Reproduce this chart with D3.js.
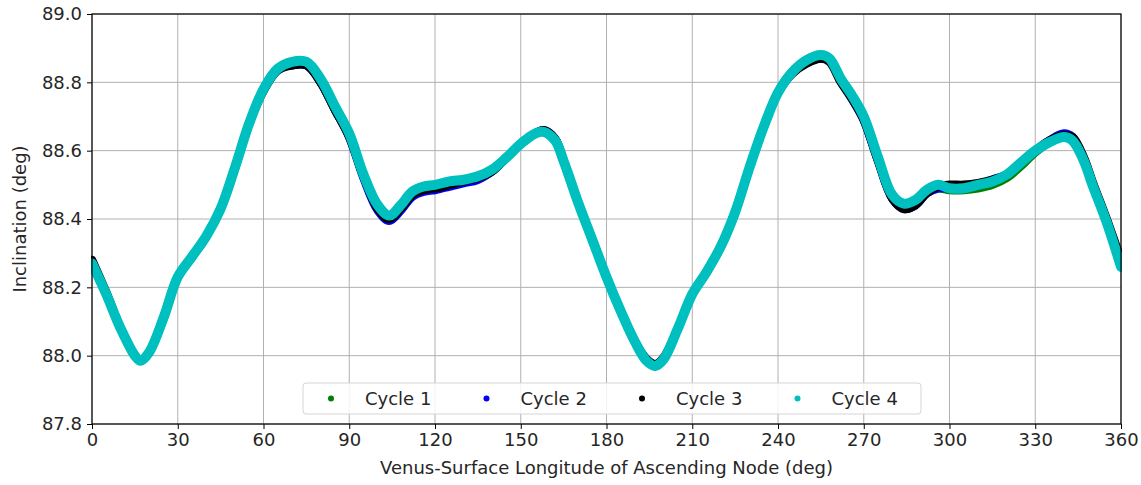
<!DOCTYPE html>
<html>
<head>
<meta charset="utf-8">
<script src="https://cdn.jsdelivr.net/npm/d3@7"></script>
<style>
  body { margin: 0; background: #fff; }
  text { font-family: "DejaVu Sans", sans-serif; }
</style>
</head>
<body>
<svg id="chart"></svg>
<script>
/* data */
var lon = [0,5,10,15,17,20,25,30,35,40,45,50,55,60,65,70,75,80,85,90,95,100,104,108,112,116,120,125,130,135,140,145,150,155,158,162,165,170,175,180,185,190,194,197,200,205,210,215,220,225,230,235,240,245,250,255,258,262,266,270,275,280,284,288,292,296,300,305,310,315,320,325,330,335,340,343,347,350,355,360];

var cycle1 = [88.27,88.18,88.08,88.00,87.985,88.01,88.11,88.23,88.29,88.35,88.43,88.55,88.68,88.78,88.84,88.855,88.855,88.80,88.72,88.645,88.525,88.435,88.405,88.435,88.475,88.49,88.495,88.505,88.51,88.52,88.54,88.58,88.62,88.65,88.655,88.63,88.57,88.45,88.34,88.23,88.13,88.04,87.985,87.97,87.99,88.08,88.18,88.245,88.32,88.42,88.55,88.67,88.77,88.83,88.86,88.875,88.865,88.805,88.755,88.695,88.575,88.465,88.44,88.45,88.48,88.49,88.485,88.485,88.49,88.50,88.52,88.555,88.595,88.625,88.64,88.63,88.57,88.50,88.39,88.26];

var cycle2 = [88.275,88.18,88.08,88.00,87.985,88.01,88.11,88.23,88.29,88.35,88.43,88.55,88.68,88.78,88.84,88.85,88.85,88.80,88.72,88.64,88.52,88.425,88.395,88.425,88.465,88.48,88.485,88.495,88.505,88.515,88.54,88.58,88.62,88.65,88.66,88.635,88.57,88.45,88.34,88.23,88.13,88.04,87.99,87.975,87.99,88.08,88.18,88.245,88.32,88.42,88.55,88.67,88.77,88.83,88.86,88.87,88.865,88.805,88.75,88.69,88.57,88.46,88.43,88.44,88.475,88.49,88.49,88.49,88.50,88.515,88.53,88.565,88.60,88.63,88.65,88.64,88.575,88.505,88.395,88.27];

var cycle3 = [88.28,88.185,88.08,88.00,87.985,88.01,88.11,88.23,88.29,88.35,88.43,88.55,88.68,88.775,88.835,88.85,88.85,88.80,88.72,88.64,88.525,88.43,88.40,88.43,88.47,88.485,88.49,88.50,88.51,88.52,88.54,88.58,88.62,88.65,88.66,88.635,88.57,88.45,88.34,88.23,88.13,88.04,87.99,87.975,87.995,88.08,88.18,88.245,88.32,88.42,88.55,88.67,88.77,88.825,88.855,88.87,88.86,88.80,88.75,88.69,88.57,88.46,88.43,88.44,88.475,88.495,88.50,88.50,88.505,88.515,88.53,88.565,88.60,88.63,88.645,88.64,88.58,88.51,88.40,88.28];

var cycle4 = [88.27,88.18,88.08,88.00,87.985,88.01,88.11,88.23,88.29,88.35,88.43,88.55,88.68,88.78,88.84,88.86,88.86,88.81,88.73,88.65,88.53,88.44,88.41,88.44,88.48,88.495,88.50,88.51,88.515,88.525,88.545,88.58,88.62,88.65,88.655,88.63,88.57,88.45,88.34,88.23,88.13,88.04,87.985,87.97,87.99,88.08,88.18,88.245,88.32,88.42,88.55,88.67,88.77,88.83,88.865,88.88,88.87,88.81,88.76,88.70,88.58,88.47,88.445,88.455,88.485,88.50,88.49,88.49,88.50,88.51,88.53,88.565,88.60,88.625,88.64,88.63,88.57,88.50,88.39,88.26];

var cycleNames = ["Cycle 1", "Cycle 2", "Cycle 3", "Cycle 4"];
var cycleColors = ["#007f00", "#0000ff", "#000000", "#00bfbf"];
var cycleValues = [cycle1, cycle2, cycle3, cycle4];

var xTicks = [0,30,60,90,120,150,180,210,240,270,300,330,360];
var yTicks = [87.8,88.0,88.2,88.4,88.6,88.8,89.0];

/* layout */
var width = 1141, height = 485;
var margin = { top: 14, right: 20, bottom: 61, left: 92 };
var innerWidth = width - margin.left - margin.right;
var innerHeight = height - margin.top - margin.bottom;
var fontSize = 18;

var svg = d3.select("#chart")
    .attr("width", width)
    .attr("height", height);

var g = svg.append("g")
    .attr("transform", "translate(" + margin.left + "," + margin.top + ")");

var xScale = d3.scaleLinear().domain([0, 360]).range([0, innerWidth]);
var yScale = d3.scaleLinear().domain([87.8, 89.0]).range([innerHeight, 0]);

/* grid */
g.append("g").selectAll("line.vgrid")
  .data(xTicks).enter().append("line")
    .attr("x1", function(d){ return xScale(d); })
    .attr("x2", function(d){ return xScale(d); })
    .attr("y1", 0).attr("y2", innerHeight)
    .attr("stroke", "#b0b0b0").attr("stroke-width", 1);

g.append("g").selectAll("line.hgrid")
  .data(yTicks).enter().append("line")
    .attr("y1", function(d){ return yScale(d); })
    .attr("y2", function(d){ return yScale(d); })
    .attr("x1", 0).attr("x2", innerWidth)
    .attr("stroke", "#b0b0b0").attr("stroke-width", 1);

/* the series, drawn as dense dots -> thick round line */
svg.append("clipPath").attr("id", "clip")
  .append("rect").attr("x", -1).attr("y", 0)
  .attr("width", innerWidth + 2).attr("height", innerHeight);

var line = d3.line()
    .x(function(d){ return xScale(d[0]); })
    .y(function(d){ return yScale(d[1]); })
    .curve(d3.curveCatmullRom.alpha(0.5));

cycleValues.forEach(function(vals, i){
    var pts = lon.map(function(l, k){ return [l, vals[k]]; });
    g.append("path")
      .datum(pts)
      .attr("clip-path", "url(#clip)")
      .attr("d", line)
      .attr("fill", "none")
      .attr("stroke", cycleColors[i])
      .attr("stroke-width", i == 3 ? 10 : 8.5)
      .attr("stroke-linecap", "round")
      .attr("stroke-linejoin", "round");
});

/* axes */
var xAxis = d3.axisBottom(xScale).tickValues(xTicks).tickSize(5).tickPadding(4)
    .tickFormat(d3.format("d"));
var yAxis = d3.axisLeft(yScale).tickValues(yTicks).tickSize(5).tickPadding(5)
    .tickFormat(d3.format(".1f"));

var xAxisG = g.append("g")
    .attr("transform", "translate(0," + innerHeight + ")")
    .call(xAxis);
var yAxisG = g.append("g").call(yAxis);

[xAxisG, yAxisG].forEach(function(a){
    a.select(".domain").remove();
    a.selectAll("text").attr("font-size", fontSize).attr("fill", "#262626")
      .style("font-family", "DejaVu Sans");
    a.selectAll(".tick line").attr("stroke", "#000");
});

/* frame */
g.append("rect")
    .attr("x", 0).attr("y", 0)
    .attr("width", innerWidth).attr("height", innerHeight)
    .attr("fill", "none").attr("stroke", "#000").attr("stroke-width", 1.2);

/* axis labels */
g.append("text")
    .attr("x", innerWidth / 2).attr("y", innerHeight + 50)
    .attr("text-anchor", "middle")
    .attr("font-size", fontSize).attr("fill", "#262626")
    .text("Venus-Surface Longitude of Ascending Node (deg)");

g.append("text")
    .attr("transform", "rotate(-90)")
    .attr("x", -innerHeight / 2).attr("y", -66)
    .attr("text-anchor", "middle")
    .attr("font-size", fontSize).attr("fill", "#262626")
    .text("Inclination (deg)");

/* legend */
var legend = svg.append("g").attr("transform", "translate(303,383)");
legend.append("rect")
    .attr("width", 618).attr("height", 31).attr("rx", 3)
    .attr("fill", "#fff").attr("fill-opacity", 0.85)
    .attr("stroke", "#d5d5d5");

var item = legend.selectAll("g.item")
  .data(cycleNames).enter().append("g")
    .attr("transform", function(d, i){ return "translate(" + (28 + i * 155.5) + ",15.5)"; });

item.append("circle")
    .attr("r", 3)
    .attr("fill", function(d, i){ return cycleColors[i]; });

item.append("text")
    .attr("x", 34).attr("dy", "0.35em")
    .attr("font-size", fontSize).attr("fill", "#262626")
    .text(function(d){ return d; });
</script>
</body>
</html>
